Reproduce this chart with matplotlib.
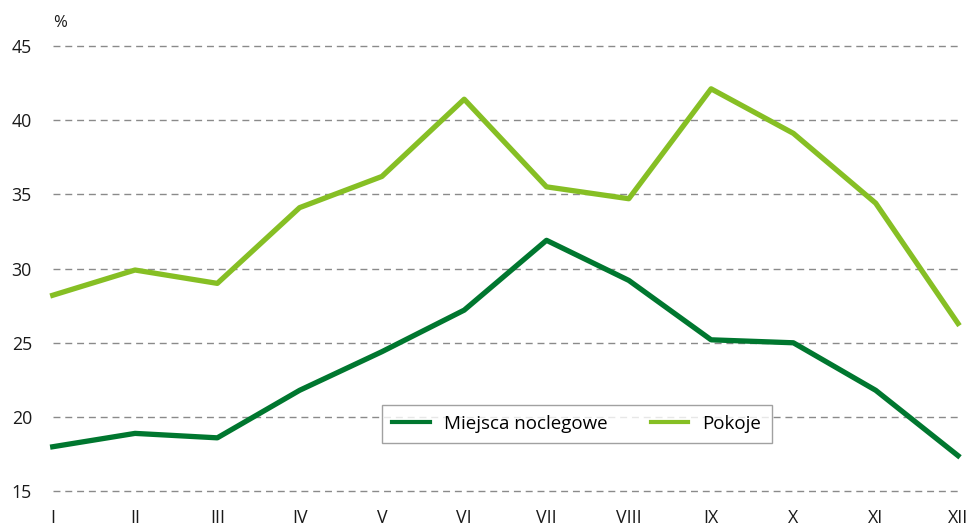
import matplotlib.pyplot as plt

months = ["I", "II", "III", "IV", "V", "VI", "VII", "VIII", "IX", "X", "XI", "XII"]
miejsca = [18.0, 18.9, 18.6, 21.8, 24.4, 27.2, 31.9, 29.2, 25.2, 25.0, 21.8, 17.4]
pokoje = [28.2, 29.9, 29.0, 34.1, 36.2, 41.4, 35.5, 34.7, 42.1, 39.1, 34.4, 26.3]
yticks = [15, 20, 25, 30, 35, 40, 45]

plt.rcParams["font.family"] = ["Open Sans", "DejaVu Sans"]

fig = plt.figure(figsize=(9.71, 5.32), dpi=100)
ax = fig.add_axes([0.0543, 0.0765, 0.9323, 0.8375])

x = range(len(months))
ax.plot(x, miejsca, color="#00772F", lw=3.8, label="Miejsca noclegowe",
        clip_on=False, zorder=3)
ax.plot(x, pokoje, color="#86BF24", lw=3.8, label="Pokoje",
        clip_on=False, zorder=3)

ax.set_xlim(0, 11)
ax.set_ylim(15, 45)
ax.set_xticks(list(x))
ax.set_xticklabels(months)
ax.set_yticks(yticks)
ax.yaxis.grid(True, color="#8a8a8a", linestyle=(0, (5, 3.5)), lw=1.0, clip_on=False)
ax.set_axisbelow(True)
for s in ax.spines.values():
    s.set_visible(False)
ax.tick_params(length=0, labelsize=12.8, colors="#1a1a1a")
ax.tick_params(axis="y", pad=15)
ax.tick_params(axis="x", pad=13)

ax.text(0.0, 1.052, "%", transform=ax.transAxes, fontsize=12, color="#1a1a1a",
        ha="left", va="center")

leg = ax.legend(loc="center", bbox_to_anchor=(0.579, 0.151), ncol=2,
                fontsize=13.5, frameon=True, fancybox=False, handlelength=2.0,
                columnspacing=2.3, handletextpad=0.75, borderpad=0.55)
leg.get_frame().set_edgecolor("#8a8a8a")
leg.get_frame().set_linewidth(1.0)
for line in leg.get_lines():
    line.set_linewidth(3.0)

fig.savefig("out.png", dpi=100)
